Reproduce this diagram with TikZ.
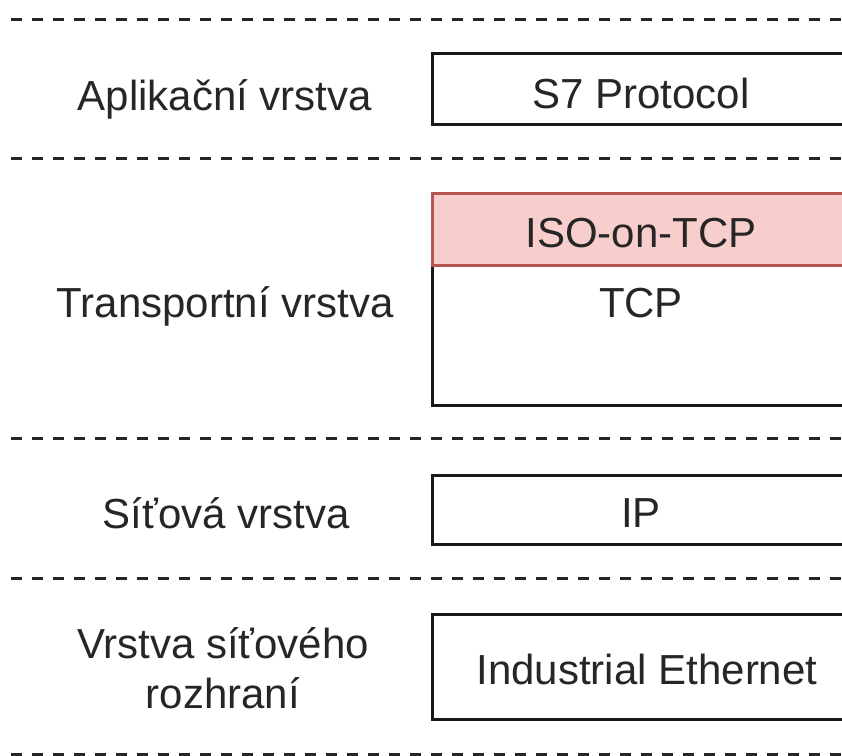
\documentclass[tikz,border=0pt]{standalone}
\usepackage{fontspec}
\setmainfont{Liberation Sans}
\begin{document}
\begin{tikzpicture}[x=1pt,y=-1pt,
  sep/.style={line width=3pt, dash pattern=on 11pt off 10pt, color=black!85},
  layerbox/.style={draw=black!90, line width=3pt, fill=white, minimum width=422pt, inner sep=0pt},
  isobox/.style={draw=isostroke, line width=3pt, fill=isofill, minimum width=422pt, inner sep=0pt},
  txt/.style={font=\fontsize{42}{50}\selectfont, text=black!85, inner sep=0pt, anchor=base, align=center}]
\definecolor{isofill}{HTML}{F8CECC}
\definecolor{isostroke}{HTML}{B85450}
\useasboundingbox (0,0) rectangle (842,755);
\clip (0,0) rectangle (842,755);
% separators
\coordinate (s1a) at (11,19);  \coordinate (s1b) at (860,19);
\coordinate (s2a) at (11,158); \coordinate (s2b) at (860,158);
\coordinate (s3a) at (11,438); \coordinate (s3b) at (860,438);
\coordinate (s4a) at (11,578); \coordinate (s4b) at (860,578);
\coordinate (s5a) at (11,754); \coordinate (s5b) at (860,754);
\draw[sep] (s1a) -- (s1b);
\draw[sep] (s2a) -- (s2b);
\draw[sep] (s3a) -- (s3b);
\draw[sep] (s4a) -- (s4b);
\draw[sep] (s5a) -- (s5b);
% boxes
\node[layerbox, minimum height=71pt] (s7) at (643,89) {};
\node[layerbox, minimum height=140pt] (tcp) at (643,335) {};
\node[isobox, minimum height=72pt] (iso) at (643,229) {};
\node[layerbox, minimum height=69pt] (ip) at (643,510) {};
\node[layerbox, minimum height=105pt] (eth) at (643,667) {};
% box texts
\node[txt] (s7t) at (641,108) {S7 Protocol};
\node[txt] (isot) at (641,247) {ISO-on-TCP};
\node[txt] (tcpt) at (641,317) {TCP};
\node[txt] (ipt) at (641,527) {IP};
\node[txt] (etht) at (647,684) {Industrial Ethernet};
% layer labels
\node[txt] (l1) at (225,110) {Aplikační vrstva};
\node[txt] (l2) at (225,317) {Transportní vrstva};
\node[txt] (l3) at (226,528) {Síťová vrstva};
\node[txt] (l4a) at (223,658) {Vrstva síťového};
\node[txt] (l4b) at (223,708) {rozhraní};
\end{tikzpicture}
\end{document}
